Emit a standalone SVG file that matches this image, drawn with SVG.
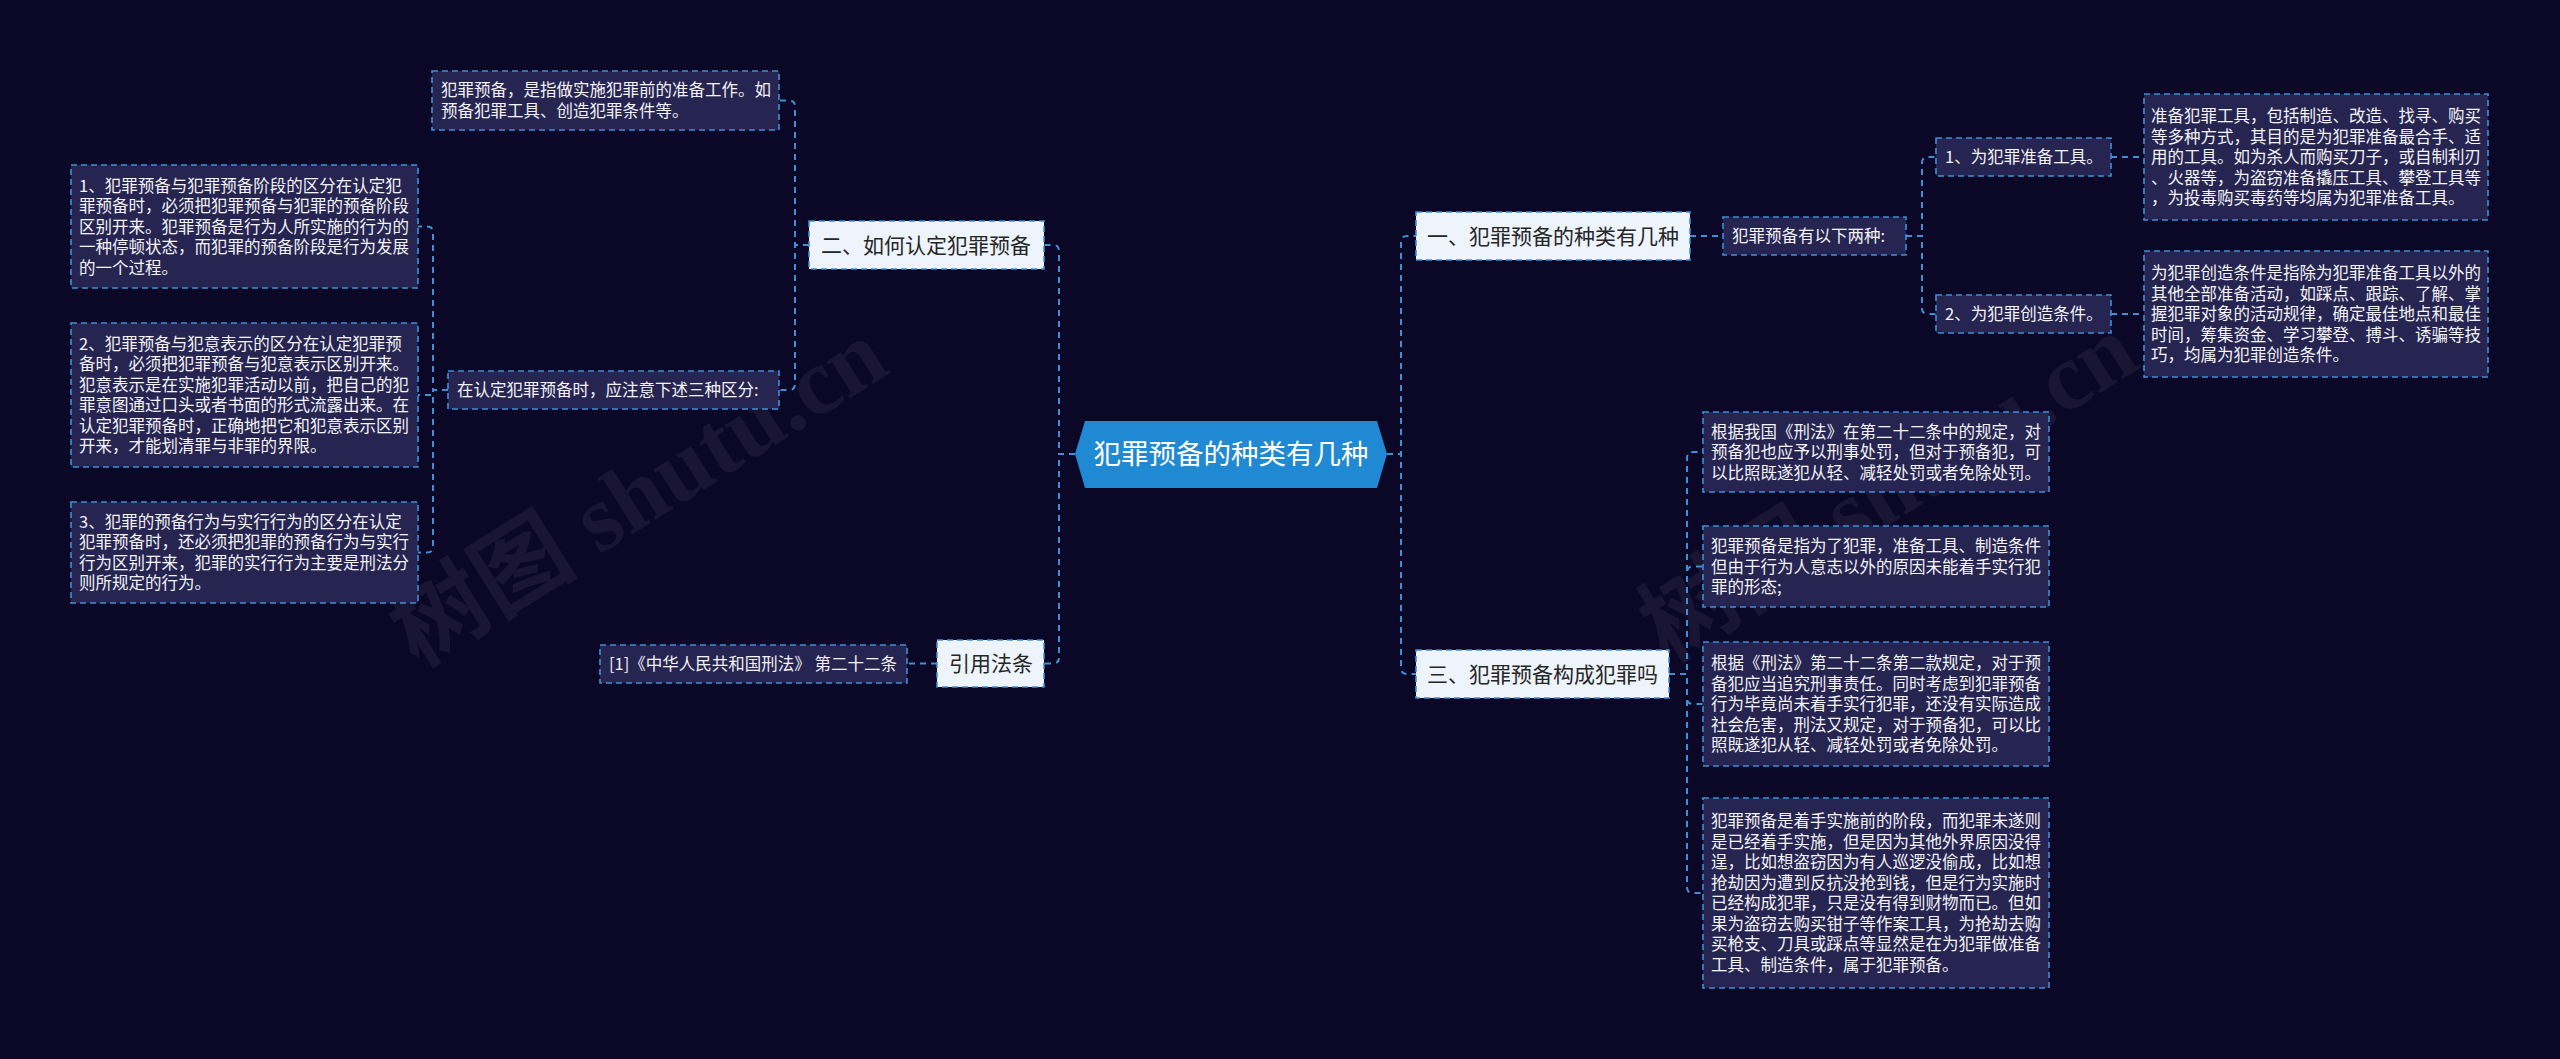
<svg xmlns="http://www.w3.org/2000/svg" width="2560" height="1059" viewBox="0 0 2560 1059">
<style>
.bg{fill:#0b0727}
.wm{font-family:"Liberation Serif","Noto Sans CJK SC",serif;font-size:95px;font-weight:bold;fill:#ffffff;fill-opacity:0.06}
.leaf rect{fill:#262450;stroke:#3d8fd6;stroke-width:1.6;stroke-dasharray:6 4}
.leaf text{font-family:"Noto Sans CJK SC","Noto Sans",sans-serif;font-size:16.5px;fill:#f3f3f8}
.pri rect{fill:#eef4fc;stroke:#3d8fd6;stroke-width:1.6;stroke-dasharray:6 4}
.pri text{font-family:"Noto Sans CJK SC","Noto Sans",sans-serif;font-size:21px;fill:#262626}
.root path{fill:#1f8ad3}
.root text{font-family:"Noto Sans CJK SC","Noto Sans",sans-serif;font-size:27.5px;fill:#ffffff;text-anchor:middle}
.conn path{fill:none;stroke:#3d8fd6;stroke-width:2;stroke-dasharray:6 5}
</style>
<rect class="bg" x="0" y="0" width="2560" height="1059"/>
<text class="wm" transform="translate(655,520) rotate(-32)" text-anchor="middle">树图 shutu.cn</text>
<text class="wm" transform="translate(1905,515) rotate(-32)" text-anchor="middle">树图 shutu.cn</text>

<g class="conn" id="connectors">
<path d="M1075,454 H1059 V251 Q1059,245 1053,245 H1044"/>
<path d="M1075,454 H1059 V657.5 Q1059,663.5 1053,663.5 H1044"/>
<path d="M809,245 H795 V106.5 Q795,100.5 789,100.5 H779"/>
<path d="M809,245 H795 V384 Q795,390 789,390 H779"/>
<path d="M448,390 H433 V232.5 Q433,226.5 427,226.5 H418"/>
<path d="M448,390 H433 V395 H418"/>
<path d="M448,390 H433 V546.5 Q433,552.5 427,552.5 H418"/>
<path d="M937,663.5 H907"/>
<path d="M1387,454 H1401 V242 Q1401,236 1407,236 H1416"/>
<path d="M1387,454 H1401 V668 Q1401,674 1407,674 H1416"/>
<path d="M1690,236 H1723"/>
<path d="M1906,236 H1922 V163 Q1922,157 1928,157 H1936"/>
<path d="M1906,236 H1922 V308 Q1922,314 1928,314 H1936"/>
<path d="M2111,157 H2144"/>
<path d="M2111,314 H2144"/>
<path d="M1669,674 H1687 V458 Q1687,452 1693,452 H1703"/>
<path d="M1669,674 H1687 V572.5 Q1687,566.5 1693,566.5 H1703"/>
<path d="M1669,674 H1687 V698 Q1687,704 1693,704 H1703"/>
<path d="M1669,674 H1687 V887 Q1687,893 1693,893 H1703"/>
</g>

<g class="root" id="root">
<path d="M1075,454 L1085,421 L1377,421 L1387,454 L1377,488 L1085,488 Z"/>
<text x="1231" y="464">犯罪预备的种类有几种</text>
</g>

<g class="pri" id="n-how">
<rect x="809" y="221" width="235" height="48"/>
<text x="821" y="252.5">二、如何认定犯罪预备</text>
</g>
<g class="pri" id="n-ref">
<rect x="937" y="640" width="107" height="47"/>
<text x="949" y="671">引用法条</text>
</g>
<g class="pri" id="n-kinds">
<rect x="1416" y="212" width="274" height="48"/>
<text x="1427" y="243.5">一、犯罪预备的种类有几种</text>
</g>
<g class="pri" id="n-crime">
<rect x="1416" y="650" width="253" height="48"/>
<text x="1427" y="681.5">三、犯罪预备构成犯罪吗</text>
</g>

<g class="leaf" id="n-def">
<rect x="432" y="71" width="347" height="59"/>
<text x="441" y="96"><tspan x="441">犯罪预备，是指做实施犯罪前的准备工作。如</tspan><tspan x="441" dy="20.5">预备犯罪工具、创造犯罪条件等。</tspan></text>
</g>
<g class="leaf" id="n-three">
<rect x="448" y="371" width="331" height="38"/>
<text x="457" y="396">在认定犯罪预备时，应注意下述三种区分:</text>
</g>
<g class="leaf" id="n-l1">
<rect x="71" y="165" width="347" height="123"/>
<text x="79" y="191.5"><tspan x="79">1、犯罪预备与犯罪预备阶段的区分在认定犯</tspan><tspan x="79" dy="20.5">罪预备时，必须把犯罪预备与犯罪的预备阶段</tspan><tspan x="79" dy="20.5">区别开来。犯罪预备是行为人所实施的行为的</tspan><tspan x="79" dy="20.5">一种停顿状态，而犯罪的预备阶段是行为发展</tspan><tspan x="79" dy="20.5">的一个过程。</tspan></text>
</g>
<g class="leaf" id="n-l2">
<rect x="71" y="323" width="347" height="144"/>
<text x="79" y="349.75"><tspan x="79">2、犯罪预备与犯意表示的区分在认定犯罪预</tspan><tspan x="79" dy="20.5">备时，必须把犯罪预备与犯意表示区别开来。</tspan><tspan x="79" dy="20.5">犯意表示是在实施犯罪活动以前，把自己的犯</tspan><tspan x="79" dy="20.5">罪意图通过口头或者书面的形式流露出来。在</tspan><tspan x="79" dy="20.5">认定犯罪预备时，正确地把它和犯意表示区别</tspan><tspan x="79" dy="20.5">开来，才能划清罪与非罪的界限。</tspan></text>
</g>
<g class="leaf" id="n-l3">
<rect x="71" y="502" width="347" height="101"/>
<text x="79" y="527.75"><tspan x="79">3、犯罪的预备行为与实行行为的区分在认定</tspan><tspan x="79" dy="20.5">犯罪预备时，还必须把犯罪的预备行为与实行</tspan><tspan x="79" dy="20.5">行为区别开来，犯罪的实行行为主要是刑法分</tspan><tspan x="79" dy="20.5">则所规定的行为。</tspan></text>
</g>
<g class="leaf" id="n-law">
<rect x="600" y="645" width="307" height="38"/>
<text x="609" y="670">[1]《中华人民共和国刑法》 第二十二条</text>
</g>

<g class="leaf" id="n-two">
<rect x="1723" y="217" width="183" height="38"/>
<text x="1732" y="242">犯罪预备有以下两种:</text>
</g>
<g class="leaf" id="n-k1">
<rect x="1936" y="138" width="175" height="38"/>
<text x="1945" y="163">1、为犯罪准备工具。</text>
</g>
<g class="leaf" id="n-k2">
<rect x="1936" y="295" width="175" height="38"/>
<text x="1945" y="320">2、为犯罪创造条件。</text>
</g>
<g class="leaf" id="n-r1">
<rect x="2144" y="94" width="344" height="126"/>
<text x="2151" y="122"><tspan x="2151">准备犯罪工具，包括制造、改造、找寻、购买</tspan><tspan x="2151" dy="20.5">等多种方式，其目的是为犯罪准备最合手、适</tspan><tspan x="2151" dy="20.5">用的工具。如为杀人而购买刀子，或自制利刃</tspan><tspan x="2151" dy="20.5">、火器等，为盗窃准备撬压工具、攀登工具等</tspan><tspan x="2151" dy="20.5">，为投毒购买毒药等均属为犯罪准备工具。</tspan></text>
</g>
<g class="leaf" id="n-r2">
<rect x="2144" y="251" width="344" height="126"/>
<text x="2151" y="279"><tspan x="2151">为犯罪创造条件是指除为犯罪准备工具以外的</tspan><tspan x="2151" dy="20.5">其他全部准备活动，如踩点、跟踪、了解、掌</tspan><tspan x="2151" dy="20.5">握犯罪对象的活动规律，确定最佳地点和最佳</tspan><tspan x="2151" dy="20.5">时间，筹集资金、学习攀登、搏斗、诱骗等技</tspan><tspan x="2151" dy="20.5">巧，均属为犯罪创造条件。</tspan></text>
</g>

<g class="leaf" id="n-a">
<rect x="1703" y="412" width="346" height="80"/>
<text x="1711" y="437.5"><tspan x="1711">根据我国《刑法》在第二十二条中的规定，对</tspan><tspan x="1711" dy="20.5">预备犯也应予以刑事处罚，但对于预备犯，可</tspan><tspan x="1711" dy="20.5">以比照既遂犯从轻、减轻处罚或者免除处罚。</tspan></text>
</g>
<g class="leaf" id="n-b">
<rect x="1703" y="526" width="346" height="81"/>
<text x="1711" y="552"><tspan x="1711">犯罪预备是指为了犯罪，准备工具、制造条件</tspan><tspan x="1711" dy="20.5">但由于行为人意志以外的原因未能着手实行犯</tspan><tspan x="1711" dy="20.5">罪的形态;</tspan></text>
</g>
<g class="leaf" id="n-c">
<rect x="1703" y="642" width="346" height="124"/>
<text x="1711" y="669"><tspan x="1711">根据《刑法》第二十二条第二款规定，对于预</tspan><tspan x="1711" dy="20.5">备犯应当追究刑事责任。同时考虑到犯罪预备</tspan><tspan x="1711" dy="20.5">行为毕竟尚未着手实行犯罪，还没有实际造成</tspan><tspan x="1711" dy="20.5">社会危害，刑法又规定，对于预备犯，可以比</tspan><tspan x="1711" dy="20.5">照既遂犯从轻、减轻处罚或者免除处罚。</tspan></text>
</g>
<g class="leaf" id="n-d">
<rect x="1703" y="798" width="346" height="190"/>
<text x="1711" y="827.25"><tspan x="1711">犯罪预备是着手实施前的阶段，而犯罪未遂则</tspan><tspan x="1711" dy="20.5">是已经着手实施，但是因为其他外界原因没得</tspan><tspan x="1711" dy="20.5">逞，比如想盗窃因为有人巡逻没偷成，比如想</tspan><tspan x="1711" dy="20.5">抢劫因为遭到反抗没抢到钱，但是行为实施时</tspan><tspan x="1711" dy="20.5">已经构成犯罪，只是没有得到财物而已。但如</tspan><tspan x="1711" dy="20.5">果为盗窃去购买钳子等作案工具，为抢劫去购</tspan><tspan x="1711" dy="20.5">买枪支、刀具或踩点等显然是在为犯罪做准备</tspan><tspan x="1711" dy="20.5">工具、制造条件，属于犯罪预备。</tspan></text>
</g>
</svg>
